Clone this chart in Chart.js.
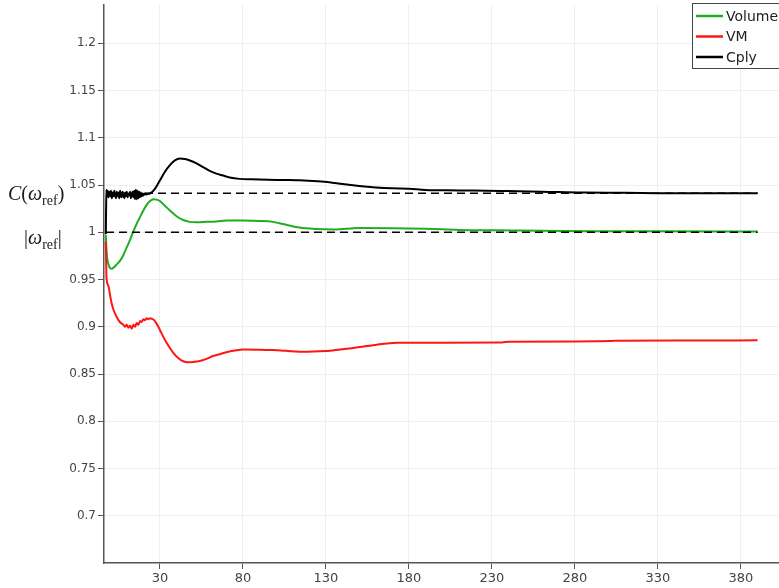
<!DOCTYPE html>
<html>
<head>
<meta charset="utf-8">
<title>Cply / Volume / VM</title>
<script src="https://cdn.jsdelivr.net/npm/chart.js@4.4.1/dist/chart.umd.min.js"></script>
<style>
    html, body { margin: 0; padding: 0; background: #ffffff; }
    #wrap { position: relative; width: 779px; height: 588px; }
</style>
</head>
<body>
<div id="wrap"><canvas id="conv-chart"></canvas></div>
<script>
"use strict";

// x ticks and y ticks as shown on the axes
var xTicks = [ 30, 80, 130, 180, 230, 280, 330, 380 ];
var yTicks = [ 0.7, 0.75, 0.8, 0.85, 0.9, 0.95, 1, 1.05, 1.1, 1.15, 1.2 ];

var seriesNames  = [ "Volume", "VM", "Cply" ];
var seriesColors = [ "#1fae1f", "#ff1414", "#000000" ];

// reference levels (dashed lines)
var cRef     = 1.0413;
var omegaRef = 1.0;
var refSpan  = [ -2.5, 390 ];

// [x, y]
var volumePoints = [
    [ -2.6, 0.997 ], [ -2.3, 0.985 ], [ -1.8, 0.973 ], [ -1.0, 0.966 ], [ 0, 0.962 ], [ 1, 0.9615 ],
    [ 2, 0.9625 ], [ 4, 0.966 ], [ 6, 0.970 ], [ 8, 0.976 ], [ 10, 0.984 ], [ 12, 0.992 ],
    [ 14, 1.001 ], [ 16, 1.009 ], [ 18, 1.016 ], [ 20, 1.023 ], [ 22, 1.029 ], [ 24, 1.033 ],
    [ 26, 1.035 ], [ 28, 1.0345 ], [ 30, 1.033 ], [ 33, 1.028 ], [ 36, 1.023 ], [ 40, 1.017 ],
    [ 44, 1.013 ], [ 48, 1.011 ], [ 52, 1.0105 ], [ 58, 1.011 ], [ 64, 1.0115 ], [ 70, 1.0125 ],
    [ 80, 1.0125 ], [ 90, 1.012 ], [ 98, 1.011 ], [ 106, 1.008 ], [ 114, 1.005 ], [ 124, 1.0035 ],
    [ 135, 1.003 ], [ 150, 1.0045 ], [ 170, 1.0043 ], [ 190, 1.0037 ], [ 210, 1.0025 ], [ 230, 1.002 ],
    [ 260, 1.0015 ], [ 290, 1.0012 ], [ 330, 1.001 ], [ 390, 1.0008 ]
];

var vmPoints = [
    [ -2.6, 0.990 ], [ -2.4, 0.970 ], [ -2.2, 0.952 ], [ -1.2, 0.944 ], [ 0, 0.933 ], [ 1, 0.924 ],
    [ 2, 0.918 ], [ 3.5, 0.912 ], [ 5, 0.907 ], [ 6.5, 0.904 ], [ 8, 0.902 ], [ 9, 0.900 ],
    [ 10, 0.902 ], [ 11, 0.899 ], [ 12, 0.901 ], [ 13, 0.898 ], [ 14, 0.902 ], [ 15, 0.900 ],
    [ 16, 0.904 ], [ 17, 0.902 ], [ 18, 0.906 ], [ 19, 0.905 ], [ 20, 0.908 ], [ 21, 0.907 ],
    [ 22, 0.909 ], [ 23, 0.908 ], [ 24, 0.909 ], [ 25, 0.9085 ], [ 26.5, 0.907 ], [ 28.8, 0.9007 ],
    [ 31, 0.893 ], [ 34, 0.883 ], [ 37.8, 0.873 ], [ 41, 0.867 ], [ 44, 0.8635 ], [ 47, 0.8625 ],
    [ 50, 0.8628 ], [ 54, 0.8637 ], [ 58, 0.866 ], [ 62, 0.869 ], [ 66, 0.871 ], [ 70, 0.873 ],
    [ 75, 0.8748 ], [ 80, 0.876 ], [ 90, 0.8758 ], [ 98, 0.8753 ], [ 106, 0.8745 ], [ 114, 0.8736 ],
    [ 126, 0.8742 ], [ 134, 0.875 ], [ 144, 0.877 ], [ 155, 0.8796 ], [ 165, 0.882 ], [ 173, 0.8832 ],
    [ 200, 0.8832 ], [ 236, 0.8834 ], [ 240, 0.8842 ], [ 280, 0.8845 ], [ 302, 0.8848 ], [ 304, 0.8853 ],
    [ 350, 0.8855 ], [ 390, 0.8856 ]
];

var cplyPoints = [
    [ -2.6, 0.998 ], [ -2.4, 1.030 ], [ -2.2, 1.045 ], [ -2.0, 1.037 ], [ -1.5, 1.044 ], [ -1.0, 1.037 ],
    [ -0.5, 1.043 ], [ 0, 1.038 ], [ 0.5, 1.044 ], [ 1, 1.036 ], [ 1.5, 1.042 ], [ 2, 1.038 ],
    [ 2.5, 1.044 ], [ 3, 1.039 ], [ 3.5, 1.036 ], [ 4, 1.043 ], [ 4.5, 1.038 ], [ 5, 1.042 ],
    [ 5.5, 1.036 ], [ 6, 1.044 ], [ 6.5, 1.039 ], [ 7, 1.037 ], [ 7.5, 1.043 ], [ 8, 1.040 ],
    [ 8.5, 1.036 ], [ 9, 1.042 ], [ 9.5, 1.038 ], [ 10, 1.043 ], [ 10.5, 1.037 ], [ 11, 1.041 ],
    [ 11.5, 1.039 ], [ 12, 1.043 ], [ 12.5, 1.036 ], [ 13, 1.040 ], [ 13.5, 1.043 ], [ 14, 1.037 ],
    [ 14.5, 1.044 ], [ 15, 1.035 ], [ 15.5, 1.045 ], [ 16, 1.035 ], [ 16.5, 1.044 ], [ 17, 1.036 ],
    [ 17.5, 1.043 ], [ 18, 1.037 ], [ 18.5, 1.042 ], [ 19, 1.038 ], [ 19.5, 1.041 ], [ 20, 1.039 ],
    [ 20.5, 1.041 ], [ 21, 1.040 ], [ 21.5, 1.041 ], [ 22, 1.040 ], [ 22.5, 1.0405 ],
    [ 24, 1.041 ], [ 27, 1.046 ], [ 30, 1.055 ], [ 33, 1.064 ], [ 36, 1.071 ], [ 39, 1.076 ],
    [ 42, 1.078 ], [ 45, 1.0775 ], [ 48, 1.076 ], [ 52, 1.073 ], [ 56, 1.069 ], [ 60, 1.065 ],
    [ 64, 1.062 ], [ 68, 1.060 ], [ 72, 1.058 ], [ 78, 1.0565 ], [ 85, 1.056 ], [ 95, 1.0555 ],
    [ 105, 1.0553 ], [ 114, 1.055 ], [ 125, 1.054 ], [ 132, 1.053 ], [ 140, 1.051 ], [ 150, 1.049 ],
    [ 160, 1.0475 ], [ 170, 1.0465 ], [ 180, 1.046 ], [ 190, 1.0448 ], [ 210, 1.0443 ], [ 235, 1.0437 ],
    [ 260, 1.043 ], [ 285, 1.042 ], [ 310, 1.0418 ], [ 330, 1.0414 ], [ 360, 1.0413 ], [ 390, 1.0413 ]
];

var toXY = function (pts) {
    return pts.map(function (p) { return { x: p[0], y: p[1] }; });
};

var refLine = function (level) {
    return {
        label      : "",
        data       : [ { x: refSpan[0], y: level }, { x: refSpan[1], y: level } ],
        borderColor: "#000000",
        borderWidth: 1.6,
        borderDash : [ 8, 5 ],
        pointRadius: 0,
        fill       : false
    };
};

var seriesLine = function (i, pts) {
    return {
        label                 : seriesNames[i],
        data                  : toXY(pts),
        borderColor           : seriesColors[i],
        borderWidth           : 2,
        pointRadius           : 0,
        cubicInterpolationMode: "monotone",
        fill                  : false
    };
};

// box legend in the top right corner of the plot
var boxLegend = {
    id: "boxLegend",
    afterDraw: function (chart) {
        var ctx = chart.ctx;
        var left = 692, top = 3, w = 90, h = 65;
        ctx.save();
        ctx.fillStyle = "#ffffff";
        ctx.fillRect(left, top, w, h);
        ctx.strokeStyle = "#444444";
        ctx.lineWidth = 1;
        ctx.strokeRect(left + 0.5, top + 0.5, w, h);
        ctx.font = "14px 'DejaVu Sans', sans-serif";
        ctx.textBaseline = "middle";
        seriesNames.forEach(function (name, i) {
            var y = 16 + i * 20.5;
            ctx.strokeStyle = seriesColors[i];
            ctx.lineWidth = 2.5;
            ctx.beginPath();
            ctx.moveTo(696, y);
            ctx.lineTo(723, y);
            ctx.stroke();
            ctx.fillStyle = "#222222";
            ctx.fillText(name, 726, y + 1);
        });
        ctx.restore();
    }
};

// TeX-like labels for the two reference levels, left of the y ticks
var refLabels = {
    id: "refLabels",
    afterDraw: function (chart) {
        var ctx = chart.ctx;
        var yScale = chart.scales.y;
        var big = "20px 'Liberation Serif', serif";
        var bigIt = "italic 20px 'Liberation Serif', serif";
        var sub = "14px 'Liberation Serif', serif";
        var put = function (x, y, parts) {
            parts.forEach(function (p) {
                ctx.font = p[1];
                ctx.fillText(p[0], x, y + (p[2] || 0));
                x += ctx.measureText(p[0]).width + (p[3] || 0);
            });
        };
        ctx.save();
        ctx.fillStyle = "#1a1a1a";
        ctx.textBaseline = "alphabetic";
        put(8, yScale.getPixelForValue(cRef) + 7, [
            [ "C", bigIt, 0, 0 ], [ "(", big ], [ "\u03c9", bigIt ], [ "ref", sub, 5 ], [ ")", big ]
        ]);
        put(24, yScale.getPixelForValue(omegaRef) + 12, [
            [ "|", big ], [ "\u03c9", bigIt ], [ "ref", sub, 5 ], [ "|", big ]
        ]);
        ctx.restore();
    }
};

var tickFont = { family: "'DejaVu Sans', sans-serif", size: 13 };

new Chart(document.getElementById("conv-chart"), {
    type   : "line",
    data   : {
        datasets: [
            refLine(cRef),
            refLine(omegaRef),
            seriesLine(2, cplyPoints),
            seriesLine(1, vmPoints),
            seriesLine(0, volumePoints)
        ]
    },
    options: {
        responsive         : true,
        maintainAspectRatio: false,
        animation          : false,
        layout             : { padding: { top: 5, right: 0, left: 0, bottom: 0 } },
        plugins            : {
            legend : { display: false },
            tooltip: { enabled: false }
        },
        scales             : {
            x: {
                type  : "linear",
                min   : -3.7,
                max   : 402.9,
                border: { color: "#555555", width: 1.5 },
                grid  : { color: "#efefef", tickColor: "#555555", tickLength: 6 },
                ticks : { color: "#444444", font: tickFont, padding: 2, maxRotation: 0 },
                afterBuildTicks: function (scale) {
                    scale.ticks = xTicks.map(function (v) { return { value: v }; });
                },
                afterFit: function (scale) {
                    scale.height = 25;
                    scale.paddingLeft = 0;
                    scale.paddingRight = 0;
                }
            },
            y: {
                type  : "linear",
                min   : 0.65,
                max   : 1.2405,
                border: { color: "#555555", width: 1.5 },
                grid  : { color: "#efefef", tickColor: "#555555", tickLength: 6 },
                ticks : {
                    color   : "#444444",
                    font    : { family: "'DejaVu Sans', sans-serif", size: 12 },
                    padding : 2,
                    callback: function (v) { return String(+v.toFixed(2)); }
                },
                afterBuildTicks: function (scale) {
                    scale.ticks = yTicks.map(function (v) { return { value: v }; });
                },
                afterFit: function (scale) {
                    scale.width = 104;
                    scale.paddingTop = 0;
                    scale.paddingBottom = 0;
                }
            }
        }
    },
    plugins: [ refLabels, boxLegend ]
});
</script>
</body>
</html>
